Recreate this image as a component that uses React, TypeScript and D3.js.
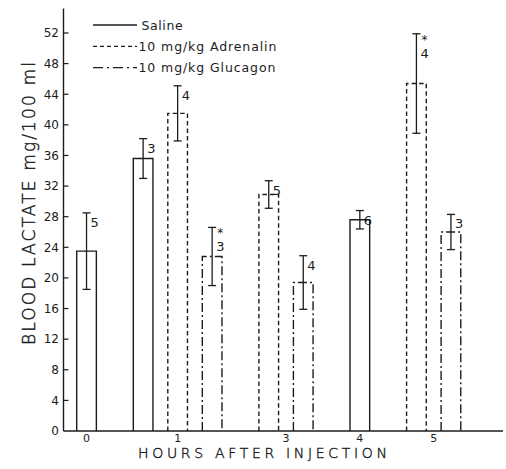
import * as d3 from 'd3';

// hours after injection (x groups)
const hours = ['0', '1', '3', '4', '5'];
const seriesNames = ['Saline', '10 mg/kg Adrenalin', '10 mg/kg Glucagon'];

// blood lactate mg/100 ml, per hour (null = not measured)
const salineMean = [23.5, 35.6, null, 27.6, null];
const salineSE = [5.0, 2.6, null, 1.2, null];
const salineN = [5, 3, null, 6, null];

const adrenalinMean = [null, 41.5, 30.9, null, 45.4];
const adrenalinSE = [null, 3.6, 1.8, null, 6.5];
const adrenalinN = [null, 4, 5, null, 4];
const adrenalinSig = [false, false, false, false, true];

const glucagonMean = [null, 22.8, 19.4, null, 26.0];
const glucagonSE = [null, 3.8, 3.5, null, 2.3];
const glucagonN = [null, 3, 4, null, 3];
const glucagonSig = [false, true, false, false, false];

const yTicks = [0, 4, 8, 12, 16, 20, 24, 28, 32, 36, 40, 44, 48, 52];

const W = 506;
const H = 469;
const INK = '#1c1c1c';
const FONT = "'DejaVu Sans', sans-serif";

const dashes = ['', '4.5,3', '9,3,2,3'];
const legendDashes = ['', '4,3', '10,4,2,4'];

type Bar = {
  hour: string;
  group: number;
  series: number;
  mean: number;
  se: number;
  n: number;
  sig: boolean;
  pos: number;
};

const means = [salineMean, adrenalinMean, glucagonMean];
const ses = [salineSE, adrenalinSE, glucagonSE];
const ns = [salineN, adrenalinN, glucagonN];
const sigs = [[false, false, false, false, false], adrenalinSig, glucagonSig];

// slot positions: one unit per bar, extra gap between hour groups
const GROUP_GAP = 0.64;
const BAR_W = 0.57;
const bars: Bar[] = [];
const groupCenters: number[] = [];
let slot = 0;
hours.forEach((h, gi) => {
  const first = slot;
  seriesNames.forEach((_, si) => {
    const m = means[si][gi];
    if (m == null) return;
    bars.push({
      hour: h,
      group: gi,
      series: si,
      mean: m,
      se: ses[si][gi] as number,
      n: ns[si][gi] as number,
      sig: sigs[si][gi],
      pos: slot + gi * GROUP_GAP,
    });
    slot += 1;
  });
  const last = slot - 1;
  groupCenters.push((first + last) / 2 + gi * GROUP_GAP + BAR_W / 2);
});

const maxPos = d3.max(bars, (b) => b.pos) as number;

const x = d3.scaleLinear().domain([0, maxPos]).range([76.7, 441.1]);
const y = d3.scaleLinear().domain([0, 52]).range([431, 33]);

const axisX = 63.5;
const axisRight = 503;
const axisTop = y(55.2);

export default function App() {
  return (
    <svg
      width={W}
      height={H}
      viewBox={`0 0 ${W} ${H}`}
      style={{ position: 'absolute', left: 0, top: 0, background: '#fff' }}
      fontFamily={FONT}
    >
      <rect width={W} height={H} fill="#fff" />

      {/* axes */}
      <line x1={axisX} x2={axisX} y1={y(0)} y2={axisTop} stroke={INK} strokeWidth={1.4} />
      <line x1={axisX} x2={axisRight} y1={y(0)} y2={y(0)} stroke={INK} strokeWidth={1.4} />

      {yTicks.map((t) => (
        <g key={t}>
          {t > 0 && (
            <line x1={axisX} x2={axisX + 5} y1={y(t)} y2={y(t)} stroke={INK} strokeWidth={1.2} />
          )}
          <text
            x={59}
            y={y(t)}
            dy="0.36em"
            textAnchor="end"
            fontSize={12}
            fill={INK}
          >
            {t}
          </text>
        </g>
      ))}

      {hours.map((h, gi) => (
        <text
          key={h}
          x={x(groupCenters[gi])}
          y={442}
          textAnchor="middle"
          fontSize={11}
          fill={INK}
        >
          {h}
        </text>
      ))}

      <text
        x={262.5}
        y={458}
        textAnchor="middle"
        fontSize={14}
        fontWeight={200}
        textLength={249}
        lengthAdjust="spacing"
        fill={INK}
        stroke={INK}
        strokeWidth={0.4}
      >
        HOURS AFTER INJECTION
      </text>

      <text
        transform="translate(35,203.5) rotate(-90)"
        textAnchor="middle"
        fontSize={17}
        fontWeight={200}
        textLength={283}
        lengthAdjust="spacing"
        fill={INK}
        stroke={INK}
        strokeWidth={0.45}
      >
        BLOOD LACTATE mg/100 ml
      </text>

      {/* bars */}
      {bars.map((b, i) => {
        const x0 = x(b.pos);
        const x1 = x(b.pos + BAR_W);
        const cx = (x0 + x1) / 2;
        const top = y(b.mean);
        const hi = y(b.mean + b.se);
        const lo = y(b.mean - b.se);
        const path = d3.path();
        path.moveTo(x0, y(0));
        path.lineTo(x0, top);
        path.lineTo(x1, top);
        path.lineTo(x1, y(0));
        return (
          <g key={i}>
            <path
              d={path.toString()}
              fill="none"
              stroke={INK}
              strokeWidth={1.4}
              strokeDasharray={dashes[b.series] || undefined}
            />
            <line x1={cx} x2={cx} y1={hi} y2={lo} stroke={INK} strokeWidth={1.3} />
            <line x1={cx - 4} x2={cx + 4} y1={hi} y2={hi} stroke={INK} strokeWidth={1.3} />
            <line x1={cx - 4} x2={cx + 4} y1={lo} y2={lo} stroke={INK} strokeWidth={1.3} />
            {b.sig && (
              <text x={cx + 5} y={hi + 10} fontSize={12} fill={INK}>
                *
              </text>
            )}
            <text
              x={cx + 4}
              y={hi + (b.sig ? 24 : 14)}
              fontSize={13}
              fill={INK}
            >
              {b.n}
            </text>
          </g>
        );
      })}

      {/* legend */}
      {seriesNames.map((name, i) => {
        const ly = 25 + i * 21.3;
        return (
          <g key={name}>
            <line
              x1={93}
              x2={137}
              y1={ly}
              y2={ly}
              stroke={INK}
              strokeWidth={1.3}
              strokeDasharray={legendDashes[i] || undefined}
            />
            <text
              x={i === 0 ? 141.5 : 138.5}
              y={ly + 4.5}
              fontSize={12.5}
              fill={INK}
              letterSpacing={i === 0 ? 0.6 : 0.9}
            >
              {name}
            </text>
          </g>
        );
      })}
    </svg>
  );
}
